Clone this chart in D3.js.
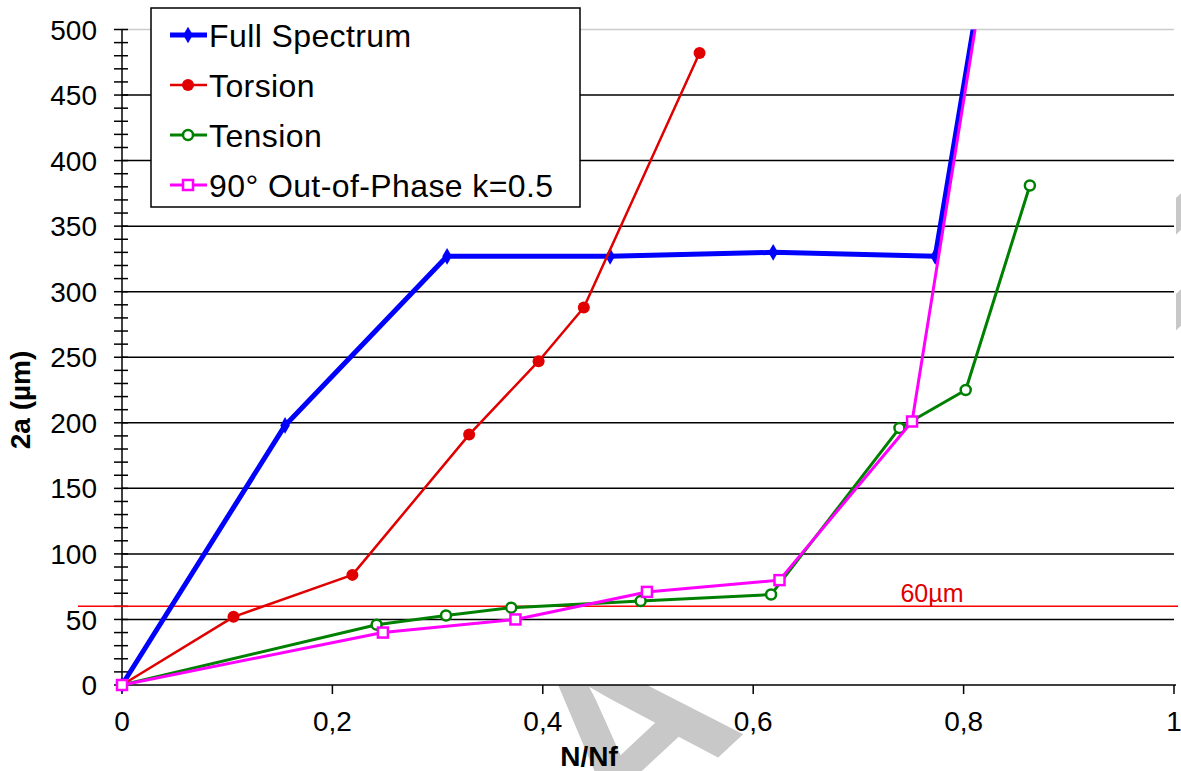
<!DOCTYPE html>
<html>
<head>
<meta charset="utf-8">
<script src="https://cdn.jsdelivr.net/npm/d3@7"></script>
<style>
    body { margin: 0; background: #fff; }
    svg text { font-family: "Liberation Sans", Arial, sans-serif; }
</style>
</head>
<body>
<svg id="chart" width="1181" height="771"></svg>
<script>
// crack length 2a (µm) against life fraction N/Nf
const fullSpectrumX = [0, 0.155, 0.309, 0.464, 0.619, 0.773, 0.86];
const fullSpectrumY = [0, 198, 327, 327, 330, 327, 745];

const torsionX = [0, 0.106, 0.219, 0.330, 0.396, 0.439, 0.549];
const torsionY = [0, 52, 84, 191, 247, 288, 482];

const tensionX = [0, 0.242, 0.308, 0.370, 0.493, 0.617, 0.739, 0.802, 0.863];
const tensionY = [0, 46, 53, 59, 64, 69, 196, 225, 381];

const outOfPhaseX = [0, 0.248, 0.374, 0.499, 0.625, 0.751, 0.86];
const outOfPhaseY = [0, 40, 50, 71, 80, 201, 745];

const seriesNames = ['Full Spectrum', 'Torsion', 'Tension', '90° Out-of-Phase k=0.5'];
const xTicks = [0, 0.2, 0.4, 0.6, 0.8, 1];
const yTicks = [0, 50, 100, 150, 200, 250, 300, 350, 400, 450, 500];
const thresholdValue = 60;

const svg = d3.select('#chart');
const X0 = 122, X1 = 1174, Y0 = 685, Y1 = 29.5;

const x = d3.scaleLinear().domain([0, 1]).range([X0, X1]);
const y = d3.scaleLinear().domain([0, 500]).range([Y0, Y1]);

// watermark, sits behind the white plot area
svg.append('text')
    .attr('transform', 'translate(621,848) rotate(-43)')
    .attr('font-size', 240)
    .attr('font-weight', 'bold')
    .attr('letter-spacing', 70)
    .attr('fill', '#c8c8c8')
    .text('ACCEPTED');

svg.append('rect')
    .attr('x', X0).attr('y', 0)
    .attr('width', X1 - X0 + 2).attr('height', Y0)
    .attr('fill', '#fff');

// grid
svg.append('g').selectAll('line')
    .data(yTicks.filter(d => d > 0))
    .join('line')
    .attr('x1', X0).attr('x2', X1)
    .attr('y1', d => y(d)).attr('y2', d => y(d))
    .attr('stroke', d => d === 500 ? '#cccccc' : '#000')
    .attr('stroke-width', 1.5);

// y axis with minor ticks
const yAxis = svg.append('g');
yAxis.append('line')
    .attr('x1', X0).attr('x2', X0).attr('y1', Y1).attr('y2', Y0)
    .attr('stroke', '#000').attr('stroke-width', 1.5);
yAxis.selectAll('line.minor')
    .data(d3.range(0, 501, 10))
    .join('line')
    .attr('class', 'minor')
    .attr('x1', X0 - 8).attr('x2', X0 + 6)
    .attr('y1', d => y(d)).attr('y2', d => y(d))
    .attr('stroke', '#000').attr('stroke-width', 1.5);
yAxis.selectAll('text')
    .data(yTicks)
    .join('text')
    .attr('x', 97).attr('y', d => y(d))
    .attr('dy', '0.36em')
    .attr('text-anchor', 'end')
    .attr('font-size', 28)
    .text(d => d);

// x axis
const xAxis = svg.append('g');
xAxis.append('line')
    .attr('x1', X0).attr('x2', X1 + 2).attr('y1', Y0).attr('y2', Y0)
    .attr('stroke', '#000').attr('stroke-width', 1.5);
xAxis.selectAll('line.tick')
    .data(xTicks)
    .join('line')
    .attr('class', 'tick')
    .attr('x1', d => x(d)).attr('x2', d => x(d))
    .attr('y1', Y0).attr('y2', Y0 + 9)
    .attr('stroke', '#000').attr('stroke-width', 1.5);
xAxis.selectAll('text')
    .data(xTicks)
    .join('text')
    .attr('x', d => x(d)).attr('y', 731)
    .attr('text-anchor', 'middle')
    .attr('font-size', 28)
    .text(d => String(d).replace('.', ','));

// axis titles
svg.append('text')
    .attr('x', 589).attr('y', 766)
    .attr('text-anchor', 'middle')
    .attr('font-size', 28).attr('font-weight', 'bold')
    .text('N/Nf');
svg.append('text')
    .attr('transform', 'translate(30,400) rotate(-90)')
    .attr('text-anchor', 'middle')
    .attr('font-size', 28).attr('font-weight', 'bold')
    .text('2a (µm)');

// 60 µm threshold
svg.append('line')
    .attr('x1', 78).attr('x2', 1178)
    .attr('y1', y(thresholdValue)).attr('y2', y(thresholdValue))
    .attr('stroke', '#ff0000').attr('stroke-width', 1.5);
svg.append('text')
    .attr('x', 932).attr('y', y(thresholdValue) - 4)
    .attr('text-anchor', 'middle')
    .attr('font-size', 25)
    .attr('fill', '#e00000')
    .text(thresholdValue + 'µm');

svg.append('clipPath').attr('id', 'plot-clip')
    .append('rect')
    .attr('x', X0 - 10).attr('y', Y1)
    .attr('width', X1 - X0 + 20).attr('height', Y0 - Y1 + 10);

const series = [
    {name: seriesNames[0], xs: fullSpectrumX, ys: fullSpectrumY, color: '#0000ff', width: 5, symbol: 'diamond'},
    {name: seriesNames[1], xs: torsionX, ys: torsionY, color: '#e00000', width: 2.5, symbol: 'dot'},
    {name: seriesNames[2], xs: tensionX, ys: tensionY, color: '#008000', width: 3, symbol: 'ring'},
    {name: seriesNames[3], xs: outOfPhaseX, ys: outOfPhaseY, color: '#ff00ff', width: 3, symbol: 'square'}
];

const line = d3.line().x(d => x(d[0])).y(d => y(d[1]));

function drawMarker(g, kind, color) {
    if (kind === 'diamond') {
        g.append('path').attr('d', d3.symbol(d3.symbolDiamond, 80)()).attr('fill', color);
    } else if (kind === 'dot') {
        g.append('circle').attr('r', 6).attr('fill', color);
    } else if (kind === 'ring') {
        g.append('circle').attr('r', 5).attr('fill', '#fff').attr('stroke', color).attr('stroke-width', 2.5);
    } else {
        g.append('rect').attr('x', -5).attr('y', -5).attr('width', 10).attr('height', 10)
            .attr('fill', '#fff').attr('stroke', color).attr('stroke-width', 2.5);
    }
}

const plot = svg.append('g').attr('clip-path', 'url(#plot-clip)');
series.forEach(s => {
    const pts = s.xs.map((v, i) => [v, s.ys[i]]);
    const g = plot.append('g');
    g.append('path')
        .datum(pts)
        .attr('d', line)
        .attr('fill', 'none')
        .attr('stroke', s.color)
        .attr('stroke-width', s.width)
        .attr('stroke-linejoin', 'round');
    pts.filter(p => p[1] <= 500).forEach(p => {
        drawMarker(g.append('g').attr('transform', `translate(${x(p[0])},${y(p[1])})`), s.symbol, s.color);
    });
});

// legend
const legend = svg.append('g');
legend.append('rect')
    .attr('x', 151).attr('y', 8).attr('width', 429).attr('height', 199)
    .attr('fill', '#fff').attr('stroke', '#000').attr('stroke-width', 1.5);
series.forEach((s, i) => {
    const cy = 35 + i * 50;
    legend.append('line')
        .attr('x1', 170).attr('x2', 207).attr('y1', cy).attr('y2', cy)
        .attr('stroke', s.color).attr('stroke-width', s.width);
    drawMarker(legend.append('g').attr('transform', `translate(188,${cy})`), s.symbol, s.color);
    legend.append('text')
        .attr('x', 209).attr('y', cy).attr('dy', '0.36em')
        .attr('font-size', 32)
        .attr('letter-spacing', 0.4)
        .text(s.name);
});
</script>
</body>
</html>
